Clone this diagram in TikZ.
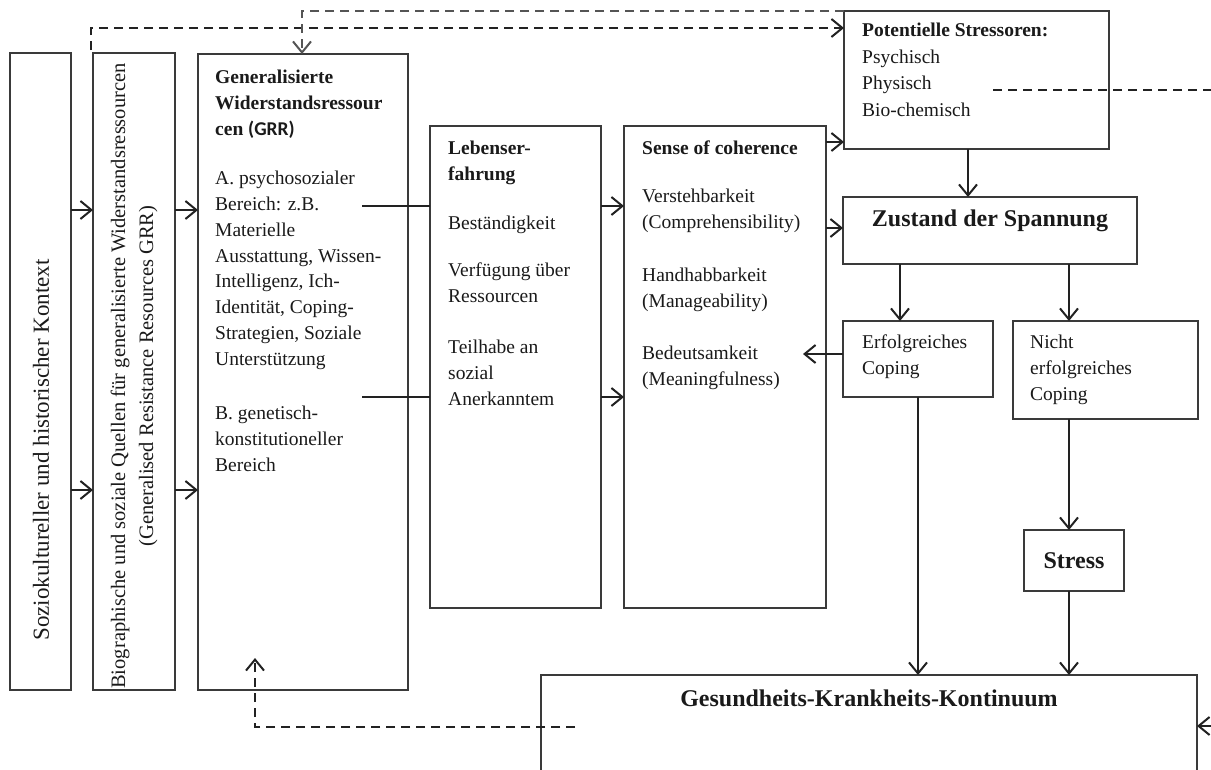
\documentclass[tikz,border=0pt]{standalone}
\usepackage{fontspec}
\setmainfont{Liberation Serif}
\newfontfamily\calibfont{Carlito}
\usetikzlibrary{arrows.meta,calc}

\definecolor{ink}{HTML}{1A1A1A}
\definecolor{wire}{HTML}{222222}
\definecolor{boxline}{HTML}{3A3A3A}
\definecolor{dashgray}{HTML}{555555}

\newcommand\fsN{\fontsize{19.5}{25.8}\selectfont}
\newcommand\fsBig{\fontsize{24}{28}\selectfont\bfseries}

\tikzset{
  frame/.style={draw=boxline, line width=1.2pt, inner sep=0pt, outer sep=0pt, anchor=north west},
  txt/.style={anchor=north west, inner sep=0pt, align=left, text=ink, font=\fsN},
  conn/.style={draw=wire, line width=2pt},
  tip/.style={-{Straight Barb[length=11pt,width=18pt,line width=2pt]}},
  arr/.style={conn, tip},
  dsh/.style={draw=wire, line width=2.3pt, dash pattern=on 9pt off 6pt},
  dsharr/.style={dsh, tip},
}

\begin{document}
\begin{tikzpicture}[x=1pt,y=-1pt]
\clip (0,0) rectangle (1211,769);
\fill[white] (0,0) rectangle (1211,769);

% ---- boxes ----
\node[frame, minimum width=61pt,  minimum height=637pt] (soz)  at (10,53)   {};
\node[frame, minimum width=82pt,  minimum height=637pt] (bio)  at (93,53)   {};
\node[frame, minimum width=210pt, minimum height=636pt] (grr)  at (198,54)  {};
\node[frame, minimum width=171pt, minimum height=482pt] (leb)  at (430,126) {};
\node[frame, minimum width=202pt, minimum height=482pt] (soc)  at (624,126) {};
\node[frame, minimum width=265pt, minimum height=138pt] (str)  at (844,11)  {};
\node[frame, minimum width=294pt, minimum height=67pt]  (zus)  at (843,197) {};
\node[frame, minimum width=150pt, minimum height=76pt]  (erf)  at (843,321) {};
\node[frame, minimum width=185pt, minimum height=98pt]  (nic)  at (1013,321){};
\node[frame, minimum width=100pt, minimum height=61pt]  (strs) at (1024,530){};
\node[frame, minimum width=656pt, minimum height=150pt] (gkk)  at (541,675) {};

% ---- texts ----
\node[rotate=90, inner sep=0pt, text=ink, font=\fontsize{23}{26}\selectfont] (sozT) at (41,450)
  {Soziokultureller und historischer Kontext};
\node[rotate=90, inner sep=0pt, text=ink, align=center, font=\fontsize{20.5}{28}\selectfont] (bioT) at (134,376)
  {Biographische und soziale Quellen für generalisierte Widerstandsressourcen\\(Generalised Resistance Resources GRR)};

\node[txt, font=\fsN\bfseries] (grrH) at (215,70)
  {Generalisierte\\Widerstandsressour\\cen {\calibfont\bfseries (GRR)}};
\node[txt] (grrA) at (215,171)
  {A. psychosozialer\\Bereich: z.B.\\Materielle\\Ausstattung, Wissen-\\Intelligenz, Ich-\\Identität, Coping-\\Strategien, Soziale\\Unterstützung};
\node[txt] (grrB) at (215,406)
  {B. genetisch-\\konstitutioneller\\Bereich};

\node[txt, font=\fsN\bfseries] (lebH) at (448,141) {Lebenser-\\fahrung};
\node[txt] (leb1) at (448,216) {Beständigkeit};
\node[txt] (leb2) at (448,263) {Verfügung über\\Ressourcen};
\node[txt] (leb3) at (448,340) {Teilhabe an\\sozial\\Anerkanntem};

\node[txt, font=\fsN\bfseries] (socH) at (642,141) {Sense of coherence};
\node[txt] (soc1) at (642,189) {Verstehbarkeit\\(Comprehensibility)};
\node[txt] (soc2) at (642,268) {Handhabbarkeit\\(Manageability)};
\node[txt] (soc3) at (642,346) {Bedeutsamkeit\\(Meaningfulness)};

\node[txt, font=\fontsize{19.5}{26.5}\selectfont] (strT) at (862,23)
  {\textbf{Potentielle Stressoren:}\\Psychisch\\Physisch\\Bio-chemisch};

\node[inner sep=0pt, text=ink, font=\fsBig] (zusT) at (990,221) {Zustand der Spannung};
\node[txt] (erfT) at (862,335) {Erfolgreiches\\Coping};
\node[txt] (nicT) at (1030,335) {Nicht\\erfolgreiches\\Coping};
\node[inner sep=0pt, text=ink, font=\fsBig] (strsT) at (1074,561) {Stress};
\node[inner sep=0pt, text=ink, font=\fsBig] (gkkT) at (869,698) {Gesundheits-Krankheits-Kontinuum};

% ---- reference rows and columns for connectors ----
\coordinate (rowA) at (0,210);
\coordinate (rowB) at (0,490);
\coordinate (gA) at (362,206);
\coordinate (gB) at (362,397);
\coordinate (rowS) at (0,142);
\coordinate (rowZ) at (0,228);
\coordinate (colS) at (968,0);
\coordinate (colE) at (900,0);
\coordinate (colN) at (1069,0);
\coordinate (colG) at (918,0);
\coordinate (mTip) at (803,354);

% ---- solid connectors ----
\draw[arr] (soz.east |- rowA) -- (bio.west |- rowA);
\draw[arr] (soz.east |- rowB) -- (bio.west |- rowB);
\draw[arr] (bio.east |- rowA) -- (grr.west |- rowA);
\draw[arr] (bio.east |- rowB) -- (grr.west |- rowB);

\draw[conn] (gA) -- (leb.west |- gA);
\draw[conn] (gB) -- (leb.west |- gB);
\draw[arr] (leb.east |- gA) -- (soc.west |- gA);
\draw[arr] (leb.east |- gB) -- (soc.west |- gB);

\draw[arr] (soc.east |- rowS) -- (str.west |- rowS);
\draw[arr] (soc.east |- rowZ) -- (zus.west |- rowZ);

\draw[arr] (str.south -| colS) -- (zus.north -| colS);
\draw[arr] (zus.south -| colE) -- (erf.north -| colE);
\draw[arr] (zus.south -| colN) -- (nic.north -| colN);
\draw[arr] (erf.west |- mTip) -- (mTip);
\draw[arr] (erf.south -| colG) -- (gkk.north -| colG);
\draw[arr] (nic.south -| colN) -- (strs.north -| colN);
\draw[arr] (strs.south -| colN) -- (gkk.north -| colN);

% ---- dashed feedback paths ----
\coordinate (dBio) at (91,50);
\coordinate (rowD) at (0,28);
\draw[dsharr] (dBio) |- (str.west |- rowD);

\coordinate (colD) at (302,0);
\draw[dsharr, draw=dashgray, line width=1.9pt] (str.north west) -| (grr.north -| colD);

\coordinate (dR0) at (993,90);
\coordinate (dR1) at (1215,90);
\draw[dsh] (dR0) -- (dR1);

\coordinate (dL0) at (575,727);
\coordinate (dLtip) at (255,658);
\draw[dsharr] (dL0) -| (dLtip);

\coordinate (rIn) at (1230,726);
\draw[arr] (rIn) -- (gkk.east |- rIn);
\end{tikzpicture}
\end{document}
